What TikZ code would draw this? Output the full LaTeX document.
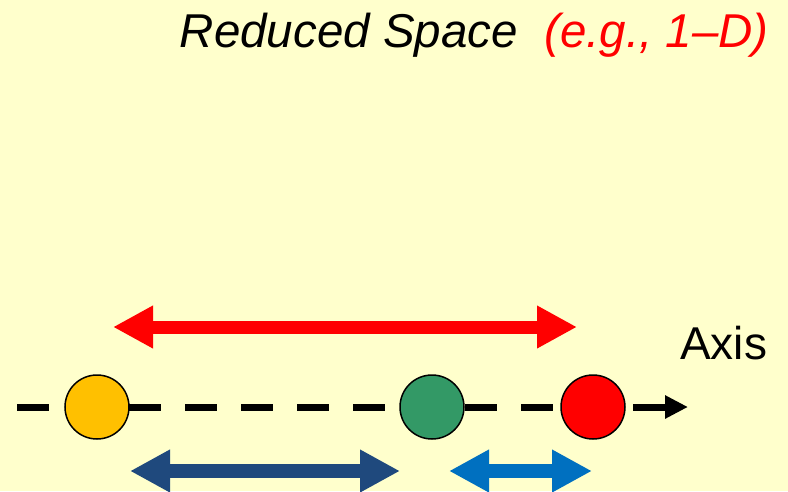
\documentclass[tikz,border=0pt]{standalone}
\usepackage{fontspec}
\setmainfont{Liberation Sans}
\usetikzlibrary{arrows.meta}

\definecolor{bgyellow}{HTML}{FFFFCC}
\definecolor{ptorange}{HTML}{FFC000}
\definecolor{ptgreen}{HTML}{339966}
\definecolor{ptred}{HTML}{FF0000}
\definecolor{darkblue}{HTML}{1F497D}
\definecolor{midblue}{HTML}{0070C0}

\tikzset{
  point/.style={circle, draw=black, line width=1.5pt, minimum size=64pt, inner sep=0pt},
  distarrow/.style={line width=#1, {Triangle[length=40pt, width=40pt]}-{Triangle[length=40pt, width=40pt]}},
  axisline/.style={line width=7pt, dash pattern=on 32pt off 24pt, -{Triangle[length=23pt, width=22pt]}},
  label/.style={inner sep=0pt, font=\fontsize{46}{55}\selectfont},
  heading/.style={inner sep=0pt, font=\fontsize{47.5}{57}\selectfont\itshape}
}

\begin{document}
\begin{tikzpicture}[x=1pt, y=-1pt]
  % canvas
  \fill[bgyellow] (0,0) rectangle (788,491);
  \useasboundingbox (0,0) rectangle (788,491);

  % heading
  \node[heading, anchor=base east] (ttl) at (518,47) {Reduced Space};
  \node[heading, anchor=base east, text=ptred] (ttlr) at (769,47) {(e.g., 1–D)};

  % axis label
  \node[label, anchor=base west] (axl) at (680,359) {Axis};

  % dashed axis with arrow head
  \coordinate (axs) at (17,407);
  \coordinate (axe) at (688,407);
  \draw[axisline] (axs) -- (axe);

  % points on the axis
  \node[point, fill=ptorange] (p1) at (97,407) {};
  \node[point, fill=ptgreen] (p2) at (432,407) {};
  \node[point, fill=ptred] (p3) at (593,407) {};

  % distance arrows
  \coordinate (ra) at (113,327);
  \coordinate (rb) at (577,327);
  \draw[ptred, distarrow=13pt] (ra) -- (rb);

  \coordinate (da) at (130,471);
  \coordinate (db) at (400,471);
  \draw[darkblue, distarrow=14pt] (da) -- (db);

  \coordinate (ba) at (449,471);
  \coordinate (bb) at (592,471);
  \draw[midblue, distarrow=14pt] (ba) -- (bb);
\end{tikzpicture}
\end{document}
